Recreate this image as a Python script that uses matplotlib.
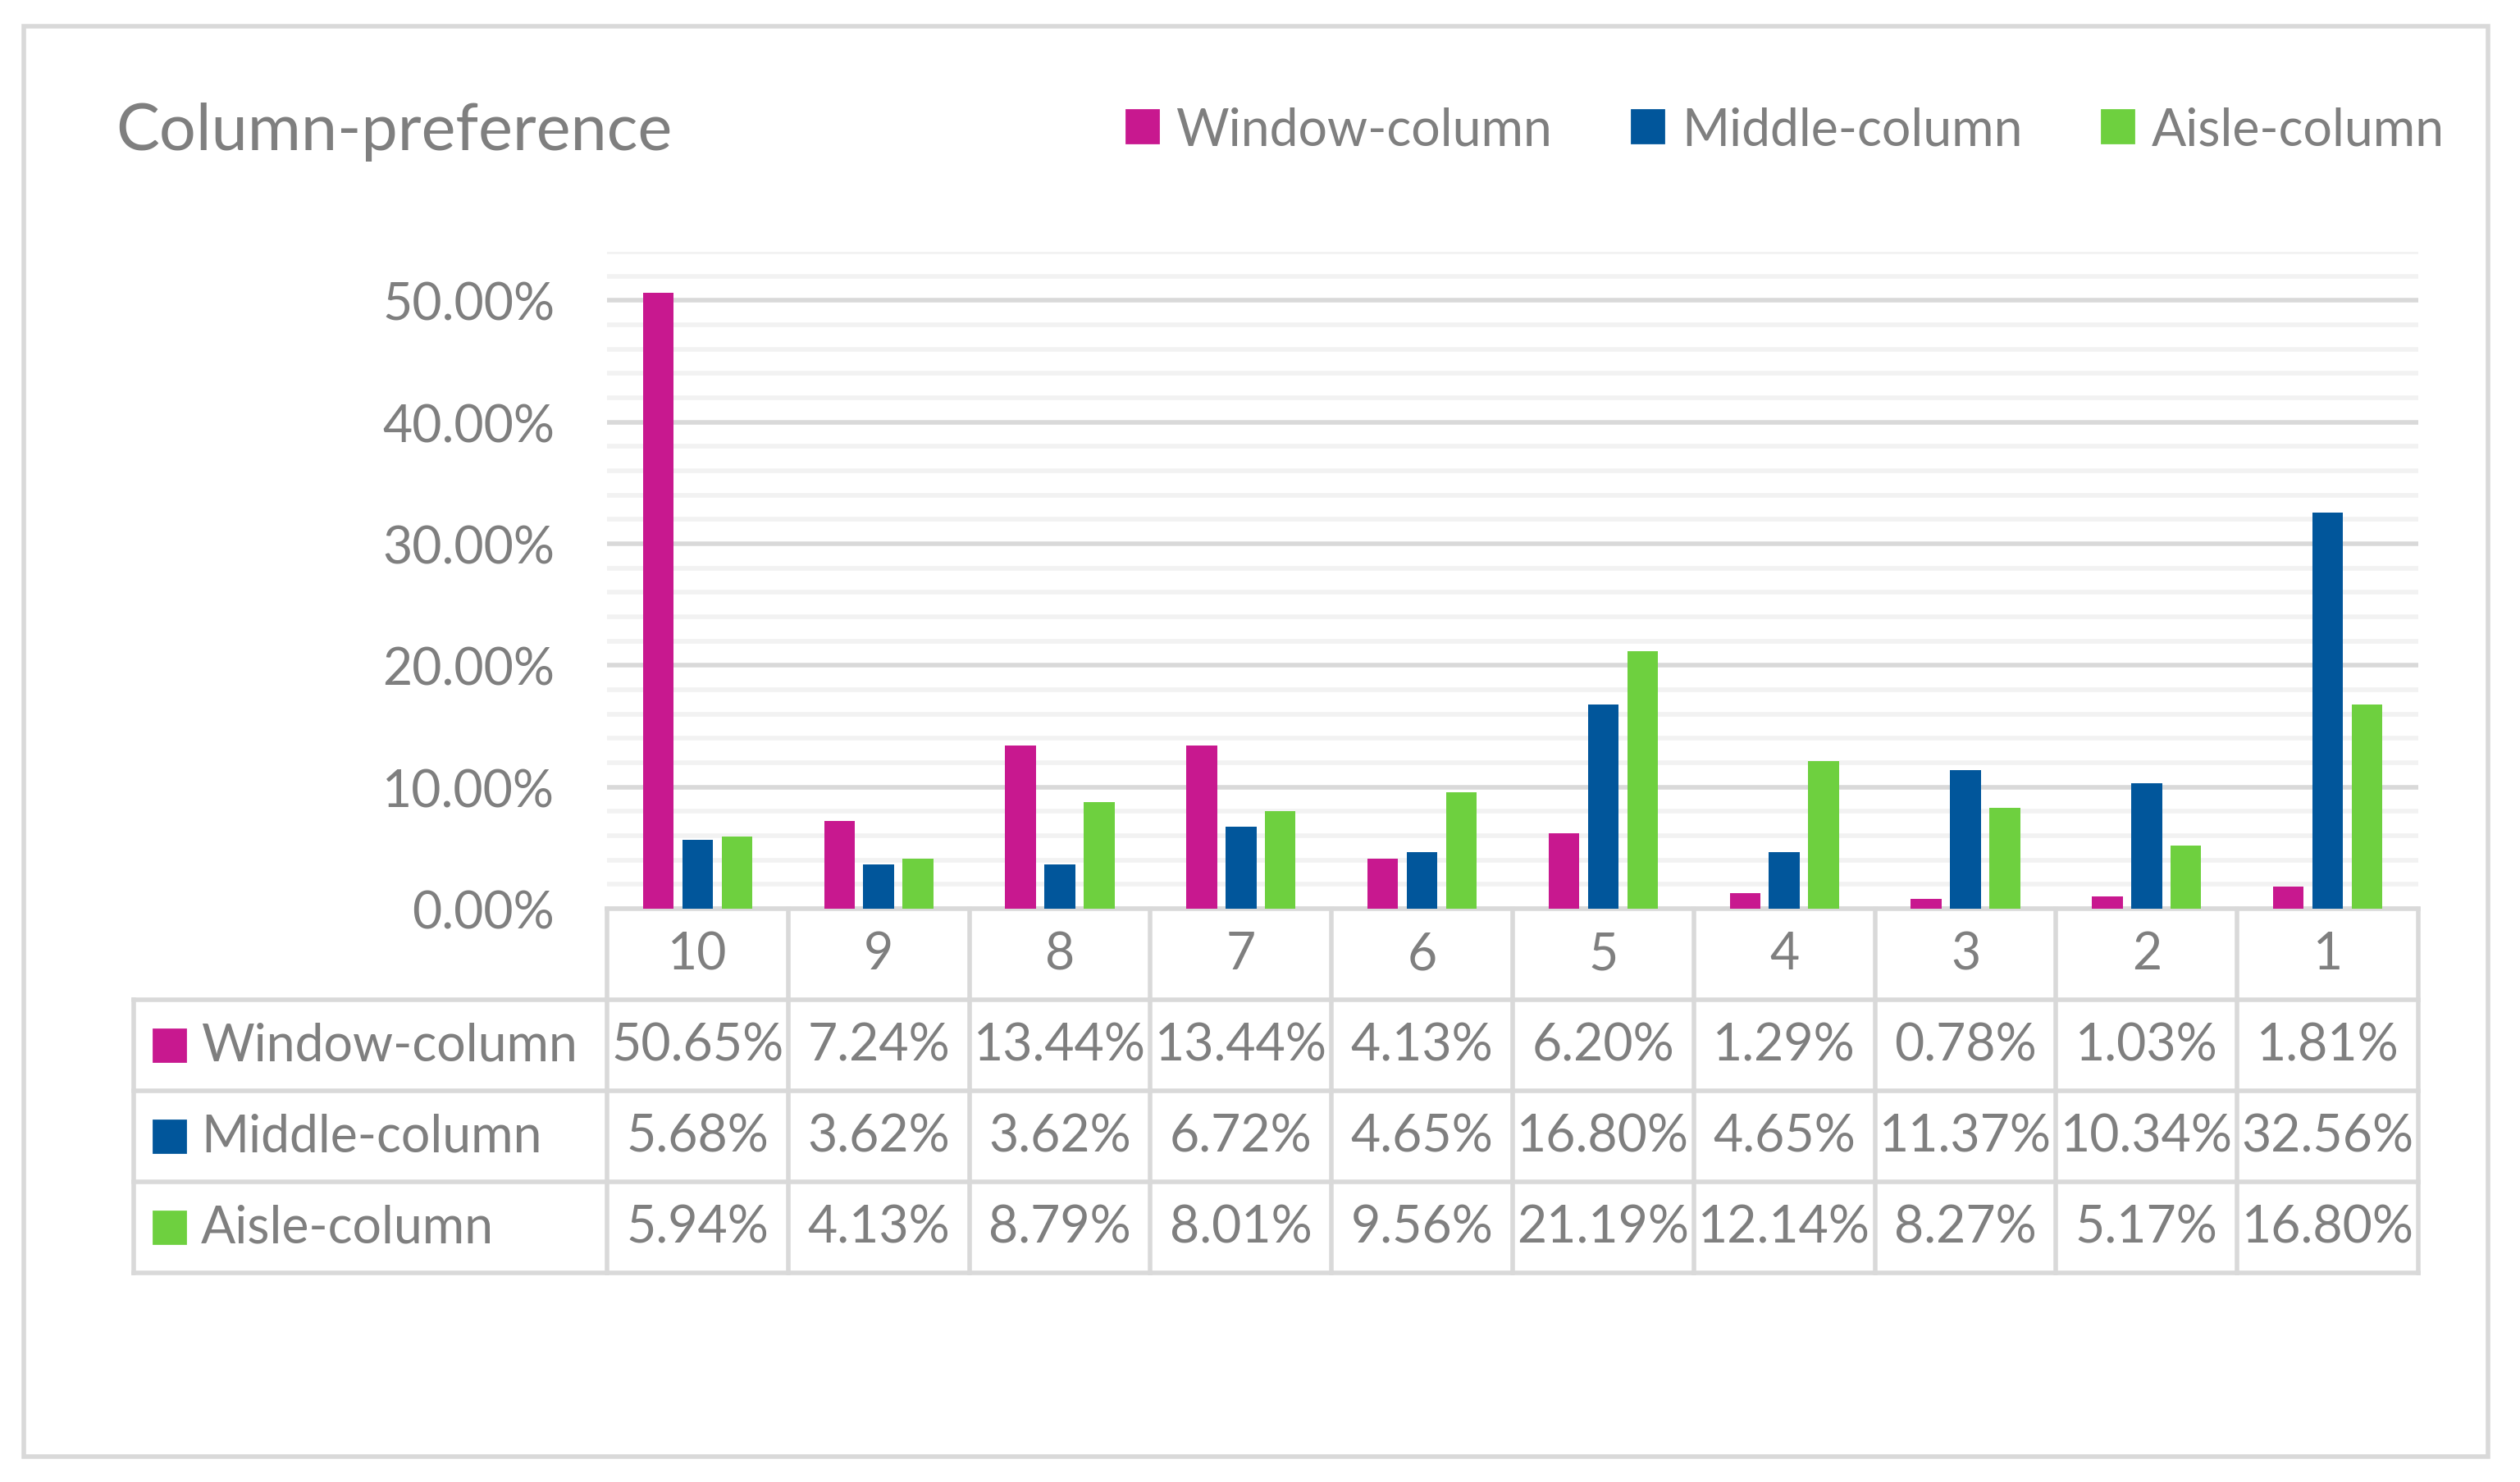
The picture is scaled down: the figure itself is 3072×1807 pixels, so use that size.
import numpy as np
import matplotlib
matplotlib.use('Agg')
import matplotlib.pyplot as plt
from matplotlib.patches import Patch, Rectangle
from matplotlib.ticker import MultipleLocator, FuncFormatter

# data (values in percent)
categories = ['10', '9', '8', '7', '6', '5', '4', '3', '2', '1']
series_names = ['Window-column', 'Middle-column', 'Aisle-column']
window_col = [50.65, 7.24, 13.44, 13.44, 4.13, 6.20, 1.29, 0.78, 1.03, 1.81]
middle_col = [5.68, 3.62, 3.62, 6.72, 4.65, 16.80, 4.65, 11.37, 10.34, 32.56]
aisle_col = [5.94, 4.13, 8.79, 8.01, 9.56, 21.19, 12.14, 8.27, 5.17, 16.80]
series_colors = ['#C8188F', '#01569B', '#6ED03F']

TEXT = '#7F7F7F'
LINE = '#D9D9D9'
plt.rcParams['font.family'] = ['Lato', 'DejaVu Sans']

W, H = 3072, 1808
fig = plt.figure(figsize=(W / 200, H / 200), dpi=200)
ax = fig.add_axes([740 / W, 1 - 1109 / H, 2208 / W, 801 / H])

# bars
x = np.arange(len(categories))
bar_w = 0.17
pitch = 0.217
all_series = [window_col, middle_col, aisle_col]
for i, (vals, col) in enumerate(zip(all_series, series_colors)):
    ax.bar(x + (i - 1) * pitch, vals, width=bar_w, color=col, zorder=3)

ax.set_xlim(-0.5, len(categories) - 0.5)
ax.set_ylim(0, 54)
ax.yaxis.set_major_locator(MultipleLocator(10))
ax.yaxis.set_minor_locator(MultipleLocator(2))
ax.yaxis.set_major_formatter(FuncFormatter(lambda v, p: f'{v:.2f}%'))
ax.grid(which='major', axis='y', color=LINE, lw=2)
ax.grid(which='minor', axis='y', color='#F2F2F2', lw=2)
ax.set_axisbelow(True)
for s in ax.spines.values():
    s.set_visible(False)
ax.set_xticks([])
ax.tick_params(axis='y', which='both', length=0, labelsize=22.5,
               labelcolor=TEXT, pad=23)

# data table below the axis
rh = 111 / 801
left = (163 - 740) / 2208
kw = dict(transform=ax.transAxes, clip_on=False, color=LINE, lw=2,
          solid_capstyle='projecting')
ax.plot([0, 1], [0, 0], **kw)
for r in range(1, 5):
    ax.plot([left, 1], [-r * rh, -r * rh], **kw)
for k in range(len(categories) + 1):
    ax.plot([k / 10, k / 10], [0, -4 * rh], **kw)
ax.plot([left, left], [-rh, -4 * rh], **kw)

for k, cat in enumerate(categories):
    ax.text((k + 0.5) / 10, -0.5 * rh, cat, transform=ax.transAxes,
            ha='center', va='center', fontsize=22.5, color=TEXT)

for i, (name, vals, col) in enumerate(zip(series_names, all_series, series_colors)):
    yc = -(i + 1.5) * rh
    ax.add_patch(Rectangle(((187 - 740) / 2208, yc - 19.5 / 801), 39 / 2208, 39 / 801,
                           transform=ax.transAxes, clip_on=False, color=col))
    ax.text((245 - 740) / 2208, yc, name, transform=ax.transAxes,
            ha='left', va='center', fontsize=22.5, color=TEXT)
    for k, v in enumerate(vals):
        ax.text((k + 0.5) / 10, yc, f'{v:.2f}%', transform=ax.transAxes,
                ha='center', va='center', fontsize=22.5, color=TEXT)

# title and legend
fig.text(141 / W, 1 - 161 / H, 'Column-preference', fontsize=28.5,
         color=TEXT, ha='left', va='center')
handles = [Patch(color=c, label=n) for n, c in zip(series_names, series_colors)]
leg = fig.legend(handles=handles, loc='center right', ncol=3, frameon=False,
                 bbox_to_anchor=(2980 / W, 1 - 159 / H), fontsize=22.5,
                 handlelength=0.62, handleheight=0.62, handletextpad=0.35,
                 columnspacing=1.55, borderpad=0, borderaxespad=0)
for t in leg.get_texts():
    t.set_color(TEXT)

# chart border
fig.patches.append(Rectangle((29 / W, 1 - 1777 / H), (3033 - 29) / W, (1777 - 33) / H,
                             transform=fig.transFigure, fill=False,
                             ec=LINE, lw=2))

fig.savefig('out.png', dpi=200, facecolor='white')
